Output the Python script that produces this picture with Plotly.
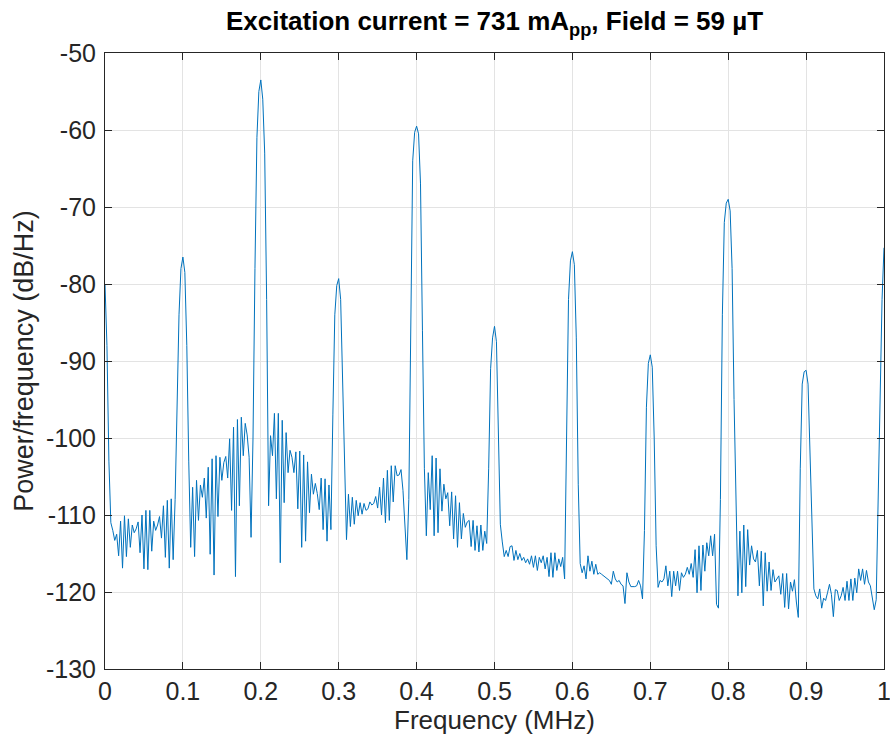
import numpy as np
import plotly.graph_objects as go

# PSD values (dB/Hz), one list per 0.1 MHz band, frequency step 0.0025 MHz
band_0 = [-80, -88, -103, -111, -112.0, -113.3, -112.5, -115.3, -110.8, -116.9,
          -110.1, -115.4, -110.5, -114.2, -111.3, -112.3, -111.8, -110.9, -114.9, -110.0,
          -117.0, -109.4, -117.1, -109.4, -114.7, -110.8, -112.0, -111.3, -110.2, -113.0,
          -108.8, -115.5, -108.1, -116.9, -107.9, -115.8, -108, -96, -84, -78]
band_1 = [-76.5, -78.5, -88, -103, -114.2, -106.4, -115.4, -105.5, -110.7, -106.1,
          -107.7, -105.2, -110.4, -103.8, -115.1, -102.7, -117.8, -102.3, -110.2, -102.5,
          -105.5, -103.2, -102.4, -105.2, -100.1, -109.4, -98.6, -118.0, -97.6, -108.8,
          -97.3, -102.3, -98.1, -99.6, -102.5, -112.9, -100, -78, -61, -55]
band_2 = [-53.5, -56, -63, -82, -108.8, -99.7, -102.3, -96.8, -107.9, -96.8,
          -116.2, -97.7, -108.4, -99.3, -104.5, -101.6, -102.5, -104.5, -101.8, -109.2,
          -101.7, -114.2, -102.2, -113.4, -103.1, -109.7, -104.7, -107.3, -105.9, -107.2,
          -109.3, -105.2, -111.9, -105.3, -113.4, -106.1, -111.9, -97, -84, -80.2]
band_3 = [-79.3, -82, -92, -104, -113.2, -107.3, -111.5, -107.7, -111.2, -108.1,
          -110.1, -108.4, -109.9, -108.5, -109.4, -109.2, -108.3, -108.7, -108.5, -107.6,
          -109.1, -106.4, -110.0, -105.2, -111.0, -104.2, -110.7, -103.6, -108.3, -103.6,
          -104.9, -104.8, -104.1, -106.8, -111.5, -115.8, -108, -82, -64, -60.3]
band_4 = [-59.5, -60.5, -67, -86, -104, -112.7, -104.5, -109.3, -102.3, -112.7,
          -102.6, -112.3, -104.0, -109.5, -106.0, -107.9, -107.1, -111.4, -107.0, -113.1,
          -107.5, -114.2, -108.4, -113.1, -109.8, -111.6, -110.9, -110.7, -114.1, -110.7,
          -114.6, -111.4, -114.8, -111.3, -114.6, -112.1, -113.7, -104, -91, -87]
band_5 = [-85.5, -87.5, -99, -111.2, -113.5, -115.4, -114.6, -115.4, -114.1, -114.0,
          -115.9, -114.6, -115.8, -115.0, -115.9, -115.5, -116.2, -115.7, -116.4, -115.3,
          -116.8, -115.3, -117.2, -115.5, -116.2, -115.3, -117.0, -115.5, -118.0, -114.9,
          -118.1, -114.9, -117.2, -115.7, -116.7, -115.5, -118.3, -100, -82, -77]
band_6 = [-75.8, -77.5, -87, -106, -116.3, -117.5, -116.6, -118.3, -115.3, -117.3,
          -116.0, -117.7, -116.4, -117.7, -117.5, -117.7, -117.9, -118.1, -118.3, -118.5,
          -119.0, -117.3, -118.3, -118.7, -118.5, -119.0, -119.2, -121.5, -117.5, -118.7,
          -119.3, -119.3, -119.3, -119.2, -118.5, -119.2, -120.9, -112, -96, -90.3]
band_7 = [-89.2, -90.8, -100, -114, -119.4, -118.5, -118.7, -118.3, -116.6, -119.2,
          -117.3, -120.6, -117.3, -119.2, -117.3, -119.8, -117.5, -118.1, -117.7, -116.8,
          -117.7, -116.3, -118.1, -114.5, -120.1, -114.0, -119.8, -113.9, -117.3, -113.6,
          -115.3, -112.7, -115.3, -112.5, -121.6, -122.1, -108, -84, -72, -69.5]
band_8 = [-69, -70.5, -78, -95, -110, -120.5, -112.1, -120.1, -111.3, -119.3,
          -111.9, -116.5, -114.0, -115.7, -116.1, -114.6, -119.2, -114.7, -121.8, -114.9,
          -119.9, -116.1, -119.8, -117.1, -118.7, -118.3, -117.9, -120.3, -117.6, -122.0,
          -117.6, -122.2, -118.7, -119.9, -118.4, -121.3, -123.3, -104, -93, -91.4]
band_9 = [-91.2, -93, -101, -110, -119.6, -120.5, -120.9, -119.6, -122.1, -120.8,
          -121.1, -120.1, -119.0, -120.3, -123.2, -119.7, -119.8, -121.1, -120.5, -119.4,
          -121.1, -118.6, -121.1, -118.3, -121.1, -118.2, -120.1, -117.0, -118.5, -117.0,
          -119.0, -117.2, -118.7, -119.2, -121.1, -122.3, -121, -108, -92, -82, -75.3]

power_db = band_0 + band_1 + band_2 + band_3 + band_4 + band_5 + band_6 + band_7 + band_8 + band_9
freq_mhz = np.round(np.arange(len(power_db)) * 0.0025, 4)

x_ticks = [0, 0.1, 0.2, 0.3, 0.4, 0.5, 0.6, 0.7, 0.8, 0.9, 1]
x_tick_labels = ['0', '0.1', '0.2', '0.3', '0.4', '0.5', '0.6', '0.7', '0.8', '0.9', '1']
y_ticks = [-130, -120, -110, -100, -90, -80, -70, -60, -50]
y_tick_labels = ['-130', '-120', '-110', '-100', '-90', '-80', '-70', '-60', '-50']

axis_color = '#262626'
grid_color = '#e3e3e3'
font_family = 'Liberation Sans, Arial, Helvetica, sans-serif'

fig = go.Figure(go.Scatter(x=freq_mhz, y=power_db, mode='lines',
                           line=dict(color='#0072BD', width=1)))

axis_style = dict(showline=True, linecolor=axis_color, linewidth=1, mirror='ticks',
                  ticks='inside', ticklen=7, tickcolor=axis_color, tickwidth=1,
                  showgrid=True, gridcolor=grid_color, gridwidth=1, zeroline=False,
                  automargin=False, ticklabeloverflow='allow',
                  tickfont=dict(size=25, color=axis_color, family=font_family))

fig.update_xaxes(range=[0, 1], tickvals=x_ticks, ticktext=x_tick_labels,
                 ticklabelstandoff=0,
                 title=dict(text='Frequency (MHz)', font=dict(size=26, color=axis_color), standoff=0),
                 **axis_style)
fig.update_yaxes(range=[-130, -50], tickvals=y_ticks, ticktext=y_tick_labels,
                 ticklabelstandoff=3,
                 title=dict(text='Power/frequency (dB/Hz)', font=dict(size=27, color=axis_color), standoff=4),
                 **axis_style)

fig.update_layout(
    width=890, height=747,
    margin=dict(l=105, r=6, t=53, b=78),
    plot_bgcolor='white', paper_bgcolor='white',
    showlegend=False,
    font=dict(family=font_family, color=axis_color),
    title=dict(text='<b>Excitation current = 731 mA<sub>pp</sub>, Field = 59 µT</b>',
               x=0.5, xref='paper', xanchor='center',
               y=1 - 21 / 747, yref='container', yanchor='middle',
               font=dict(size=26, color='black', family=font_family)),
)

# the page body has a default 8px margin; drop it so the figure fills the window
fig.write_html("out.html", config={'displayModeBar': False},
               post_script="document.body.style.margin = '0';")
